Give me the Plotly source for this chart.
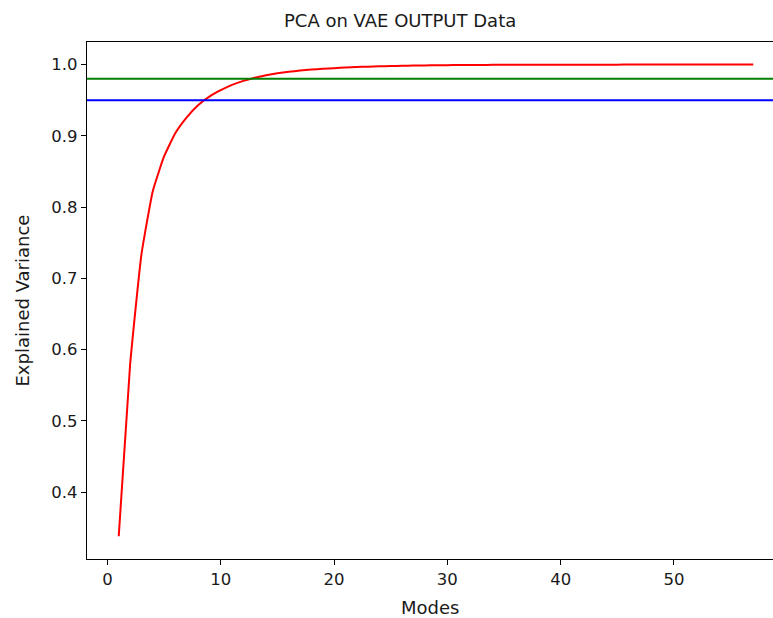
import plotly.graph_objects as go

# Data
modes = list(range(1, 58))
explained_variance = [
    0.338, 0.578, 0.733, 0.822, 0.871, 0.904, 0.926, 0.943, 0.955, 0.964,
    0.9715, 0.9772, 0.9816, 0.9851, 0.9878, 0.9899, 0.9916, 0.993, 0.9941, 0.995,
    0.9958, 0.9965, 0.9971, 0.9976, 0.998, 0.9983, 0.9986, 0.9988, 0.999, 0.9992,
    0.9993, 0.9994, 0.9995, 0.9996, 0.9996, 0.9997, 0.9997, 0.9998, 0.9998, 0.9998,
    0.9999, 0.9999, 0.9999, 0.9999, 0.9999, 1.0, 1.0, 1.0, 1.0, 1.0,
    1.0, 1.0, 1.0, 1.0, 1.0, 1.0, 1.0,
]
thresholds = [0.98, 0.95]
threshold_colors = ["green", "blue"]
x_ticks = [0, 10, 20, 30, 40, 50]
y_ticks = [0.4, 0.5, 0.6, 0.7, 0.8, 0.9, 1.0]

FONT = "DejaVu Sans"
TXT = "#1a1a1a"

fig = go.Figure()
fig.add_trace(go.Scatter(x=modes, y=explained_variance, mode="lines",
                         line=dict(color="red", width=2, shape="spline", smoothing=0.4),
                         showlegend=False, hoverinfo="skip"))

for t, c in zip(thresholds, threshold_colors):
    fig.add_shape(type="line", xref="paper", x0=0, x1=1, yref="y", y0=t, y1=t,
                  line=dict(color=c, width=2), layer="above")

fig.update_layout(
    width=773, height=618,
    margin=dict(l=87, r=0, t=42, b=59),
    paper_bgcolor="white", plot_bgcolor="white",
    font=dict(family=FONT, size=16, color=TXT),
    showlegend=False,
    xaxis=dict(range=[-1.8, 58.74], tickvals=x_ticks, ticks="outside", ticklen=5,
               tickwidth=1, tickcolor="black", showline=True, linecolor="black",
               linewidth=1.2, mirror=True, showgrid=False, zeroline=False,
               tickfont=dict(family=FONT, size=16.5, color=TXT)),
    yaxis=dict(range=[0.306, 1.0317], tickvals=y_ticks, tickformat=".1f",
               ticks="outside", ticklen=5, tickwidth=1, tickcolor="black",
               showline=True, linecolor="black", linewidth=1.2, mirror=False,
               showgrid=False, zeroline=False,
               tickfont=dict(family=FONT, size=16.5, color=TXT)),
    annotations=[
        dict(text="PCA on VAE OUTPUT Data", xref="paper", yref="paper",
             x=(400 - 87) / 686, y=1, yshift=22, showarrow=False,
             xanchor="center", yanchor="middle",
             font=dict(family=FONT, size=18, color=TXT)),
        dict(text="Modes", xref="paper", yref="paper",
             x=0.5, y=0, yshift=-48, showarrow=False,
             xanchor="center", yanchor="middle",
             font=dict(family=FONT, size=18, color=TXT)),
        dict(text="Explained Variance", xref="paper", yref="paper",
             x=0, y=0.5, xshift=-65, showarrow=False, textangle=-90,
             xanchor="center", yanchor="middle",
             font=dict(family=FONT, size=18, color=TXT)),
    ],
)

fig.write_html("out.html")
